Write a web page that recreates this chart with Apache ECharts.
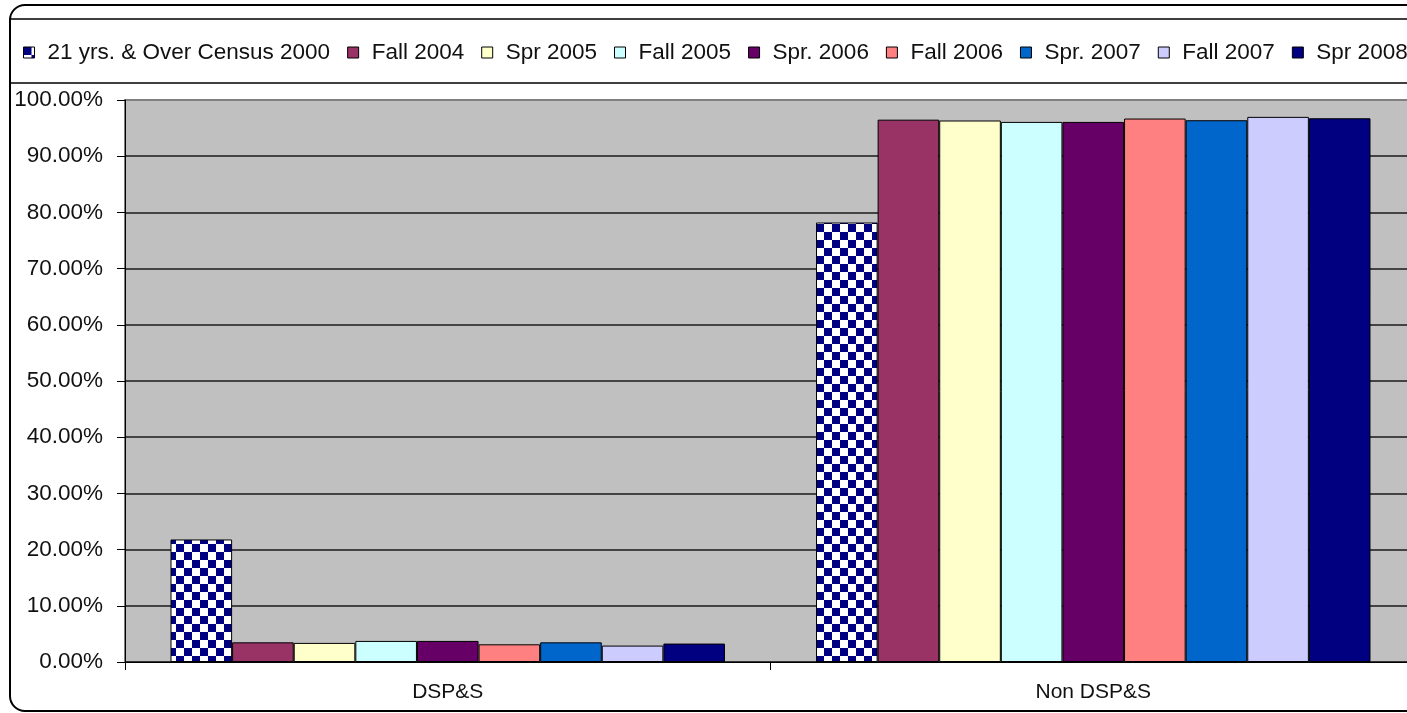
<!DOCTYPE html>
<html>
<head>
<meta charset="utf-8">
<title>DSP&amp;S chart</title>
<script src="https://cdn.jsdelivr.net/npm/echarts@6/dist/echarts.min.js"></script>
<style>
  html, body { margin: 0; padding: 0; background: #fff; }
  #chart { width: 1407px; height: 713px; }
</style>
</head>
<body>
<div id="chart"></div>
<script>
// categories on the x axis
var categories = ['DSP&S', 'Non DSP&S']
// one name per series, same order as the value arrays below
var seriesNames = ['21 yrs. & Over Census 2000', 'Fall 2004', 'Spr 2005', 'Fall 2005', 'Spr. 2006', 'Fall 2006', 'Spr. 2007', 'Fall 2007', 'Spr 2008']
// values in percent
var census2000 = [21.8, 78.2]
var fall2004 = [3.5, 96.5]
var spr2005 = [3.4, 96.35]
var fall2005 = [3.75, 96.1]
var spr2006 = [3.75, 96.1]
var fall2006 = [3.15, 96.7]
var spr2007 = [3.5, 96.4]
var fall2007 = [2.92, 97.0]
var spr2008 = [3.28, 96.75]
// y axis ticks
var yMin = 0
var yMax = 100
var yStep = 10

var seriesValues = [census2000, fall2004, spr2005, fall2005, spr2006, fall2006, spr2007, fall2007, spr2008]
var seriesColors = ['#000080', '#993366', '#FFFFCC', '#CCFFFF', '#660066', '#FF8080', '#0066CC', '#CCCCFF', '#000080']

// checker board fill for the census series
function checker () {
  var c = document.createElement('canvas')
  c.width = 16
  c.height = 16
  var ctx = c.getContext('2d')
  ctx.fillStyle = '#ffffff'
  ctx.fillRect(0, 0, 16, 16)
  ctx.fillStyle = '#000080'
  ctx.fillRect(0, 0, 8, 8)
  ctx.fillRect(8, 8, 8, 8)
  return { image: c, repeat: 'repeat' }
}

var font = '"Liberation Sans", Arial, sans-serif'

var series = seriesNames.map(function (name, i) {
  return {
    name: name,
    type: 'bar',
    data: seriesValues[i],
    barGap: '0%',
    barCategoryGap: '14.1%',
    itemStyle: {
      color: i === 0 ? checker() : seriesColors[i],
      borderColor: '#000',
      borderWidth: 1
    }
  }
})

var myChart = echarts.init(document.getElementById('chart'))
myChart.setOption({
  animation: false,
  textStyle: { fontFamily: font },
  graphic: [
    { // outer frame
      type: 'rect',
      silent: true,
      z: 100,
      shape: { x: 10, y: 5, width: 1412, height: 706, r: 15 },
      style: { fill: 'none', stroke: '#000', lineWidth: 2 }
    },
    { // legend frame
      type: 'rect',
      silent: true,
      z: 100,
      shape: { x: 10, y: 19, width: 1412, height: 64 },
      style: { fill: 'none', stroke: '#000', lineWidth: 1.5 }
    }
  ],
  legend: {
    left: 23,
    top: 41,
    width: 1800,
    padding: 0,
    itemWidth: 11,
    itemHeight: 11,
    itemGap: 17,
    icon: 'rect',
    itemStyle: { borderColor: '#000', borderWidth: 1 },
    textStyle: { fontSize: 22.5, color: '#111', fontFamily: font, padding: [0, 0, 0, 8] },
    data: seriesNames
  },
  grid: {
    left: 125,
    right: -9,
    top: 100,
    bottom: 51,
    containLabel: false,
    outerBoundsMode: 'none',
    show: true,
    backgroundColor: '#C0C0C0',
    borderColor: '#808080',
    borderWidth: 2
  },
  xAxis: {
    type: 'category',
    data: categories,
    axisLine: { lineStyle: { color: '#000', width: 1 } },
    axisTick: { show: true, length: 8, lineStyle: { color: '#000' } },
    axisLabel: { fontSize: 21, color: '#111', margin: 20, fontFamily: font }
  },
  yAxis: {
    type: 'value',
    min: yMin,
    max: yMax,
    interval: yStep,
    axisLine: { show: true, lineStyle: { color: '#000', width: 1 } },
    axisTick: { show: true, length: 8, lineStyle: { color: '#000' } },
    axisLabel: {
      fontSize: 22.5,
      color: '#111',
      margin: 22,
      fontFamily: font,
      formatter: function (v) { return v.toFixed(2) + '%' }
    },
    splitLine: { show: true, showMaxLine: false, lineStyle: { color: '#1a1a1a', width: 1.5 } }
  },
  series: series
})
</script>
</body>
</html>
